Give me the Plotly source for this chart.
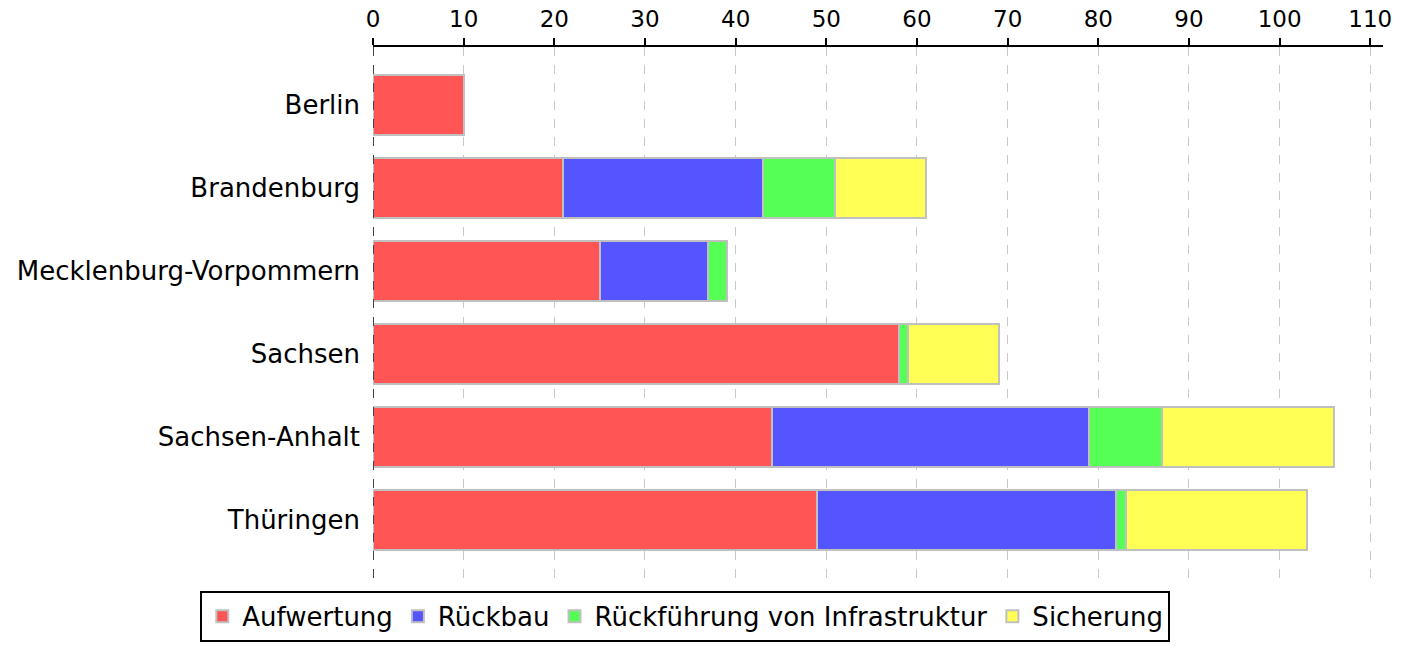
import plotly.graph_objects as go

categories = ["Berlin", "Brandenburg", "Mecklenburg-Vorpommern", "Sachsen", "Sachsen-Anhalt", "Thüringen"]
aufwertung = [10, 21, 25, 58, 44, 49]
rueckbau = [0, 22, 12, 0, 35, 33]
rueckfuehrung = [0, 8, 2, 1, 8, 1]
sicherung = [0, 10, 0, 10, 19, 20]
x_ticks = [0, 10, 20, 30, 40, 50, 60, 70, 80, 90, 100, 110]

series = [
    ("Aufwertung", aufwertung, "#FF5555"),
    ("Rückbau", rueckbau, "#5555FF"),
    ("Rückführung von Infrastruktur", rueckfuehrung, "#55FF55"),
    ("Sicherung", sicherung, "#FFFF55"),
]

fig = go.Figure()
for name, vals, color in series:
    fig.add_trace(go.Bar(
        y=categories, x=vals, name=name, orientation="h",
        marker=dict(color=color, line=dict(color="#C0C0C0", width=2)),
    ))

font = "DejaVu Sans"
fig.update_layout(
    barmode="stack",
    bargap=0.27,
    width=1417, height=646,
    margin=dict(l=373, r=34, t=47, b=68, autoexpand=False),
    plot_bgcolor="white", paper_bgcolor="white",
    font=dict(family=font, size=22, color="black"),
    legend=dict(
        orientation="h", x=-0.171, xanchor="left", y=-0.024, yanchor="top",
        bordercolor="black", borderwidth=2, font=dict(size=26, family=font),
        traceorder="normal", itemwidth=30,
    ),
    xaxis=dict(
        side="top", range=[0, 111.4], tickvals=x_ticks, automargin=False,
        showline=True, linecolor="black", linewidth=2,
        ticks="outside", ticklen=7, tickwidth=2, tickcolor="black",
        showgrid=True, gridcolor="#C8C8C8", griddash="dash", gridwidth=1,
        zeroline=False, tickfont=dict(size=23), ticklabelstandoff=2,
    ),
    yaxis=dict(
        autorange=False, range=[5.7, -0.7], categoryorder="array", categoryarray=categories,
        showgrid=False, zeroline=False, ticks="", ticklen=0, automargin=False,
        tickfont=dict(size=26), showline=False, ticklabelstandoff=12,
    ),
    shapes=[dict(type="line", xref="x", yref="paper", x0=0, x1=0, y0=0, y1=1,
                 line=dict(color="#444444", width=2, dash="dash"))],
)

fig.write_html("out.html", config={"displayModeBar": False},
               post_script="document.body.style.margin='0';")
